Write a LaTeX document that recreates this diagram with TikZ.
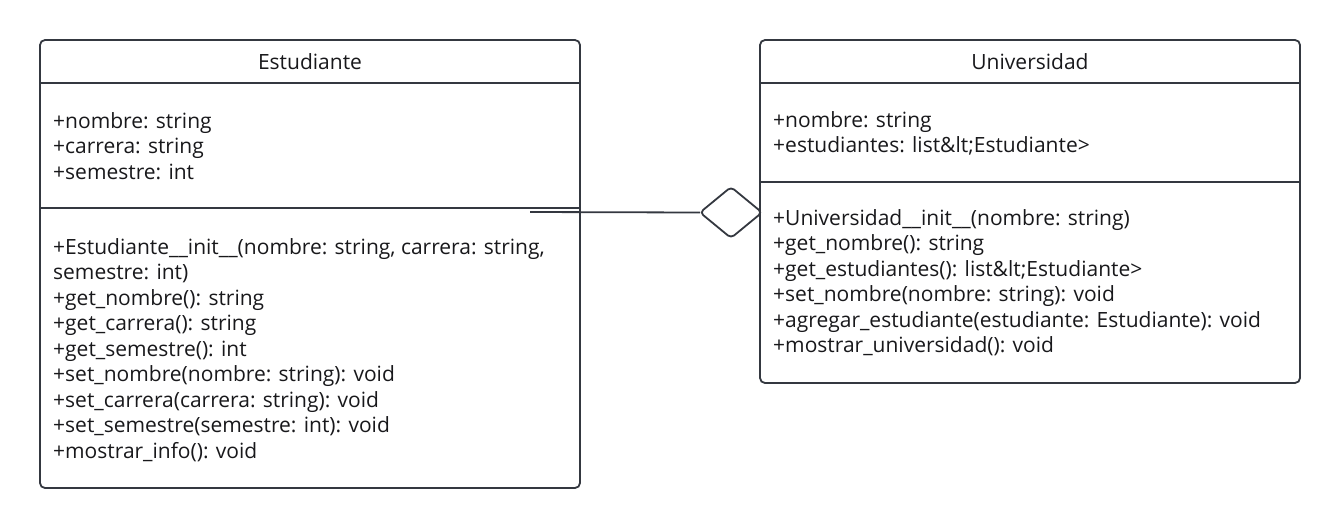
\documentclass[tikz,border=0pt]{standalone}
\usepackage{fontspec}
\setmainfont{Open Sans}
\usetikzlibrary{shapes.geometric}
\definecolor{umlline}{RGB}{52,56,64}
\definecolor{umltext}{RGB}{24,24,27}

\begin{document}
\begin{tikzpicture}[x=1pt, y=-1pt,
    cls/.style={draw=umlline, line width=1.8pt, rounded corners=5pt, minimum width=540pt, inner sep=0pt, outer sep=0pt},
    sep/.style={draw=umlline, line width=1.8pt},
    title/.style={anchor=base, font=\fontsize{21}{25.5}\selectfont, text=umltext},
    members/.style={anchor=north west, align=left, inner sep=0pt, font=\fontsize{21}{25.5}\selectfont, text=umltext},
    aggr/.style={draw=umlline, line width=1.8pt, shape=diamond, rounded corners=4pt, minimum width=62pt, minimum height=51pt, inner sep=0pt, outer sep=0pt, fill=white}
]
\useasboundingbox (0,0) rectangle (1340,528);

\node[cls, minimum height=448pt] (est) at (310,264) {};
\node[title] (estT) at (310,69) {Estudiante};
\draw[sep] (40,83) -- (580,83);
\draw[sep] (40,208) -- (580,208);
\node[members] (estA) at (53,110) {\strut+nombre: string\\+carrera: string\\+semestre: int};
\node[members] (estM) at (53,236) {\strut+Estudiante\_\_init\_\_(nombre: string, carrera: string,\\semestre: int)\\+get\_nombre(): string\\+get\_carrera(): string\\+get\_semestre(): int\\+set\_nombre(nombre: string): void\\+set\_carrera(carrera: string): void\\+set\_semestre(semestre: int): void\\+mostrar\_info(): void};

\node[cls, minimum height=343pt] (uni) at (1030,211.5) {};
\node[title] (uniT) at (1030,69) {Universidad};
\draw[sep] (760,83) -- (1300,83);
\draw[sep] (760,182) -- (1300,182);
\node[members] (uniA) at (773,109) {\strut+nombre: string\\+estudiantes: list\&lt;Estudiante>};
\node[members] (uniM) at (773,207) {\strut+Universidad\_\_init\_\_(nombre: string)\\+get\_nombre(): string\\+get\_estudiantes(): list\&lt;Estudiante>\\+set\_nombre(nombre: string): void\\+agregar\_estudiante(estudiante: Estudiante): void\\+mostrar\_universidad(): void};

\coordinate (lnk) at (530,212);
\node[aggr] (agg) at (731,212.5) {};
\draw[sep] (lnk) -- (agg.west);
\end{tikzpicture}
\end{document}
